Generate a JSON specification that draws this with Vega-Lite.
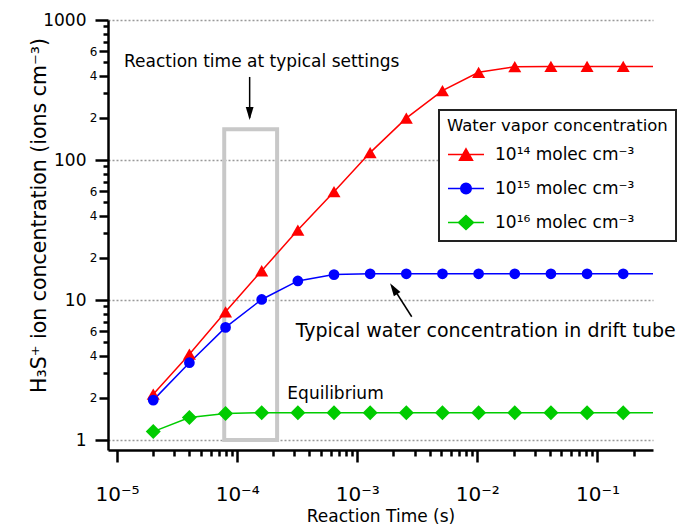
{
  "$schema": "https://vega.github.io/schema/vega-lite/v6.json",
  "width": 545,
  "height": 430,
  "autosize": {"type": "none"},
  "padding": {"left": 108, "top": 20, "right": 35, "bottom": 77},
  "config": {
    "font": "DejaVu Sans",
    "view": {"stroke": null},
    "axis": {
      "domainColor": "black", "domainWidth": 2.5, "tickColor": "black", "tickWidth": 2.5,
      "labelColor": "black", "titleColor": "black", "titleFontWeight": "normal",
      "grid": false, "labelFlush": false, "labelOverlap": false
    }
  },
  "datasets": {
    "series": [
      {"s": "10¹⁴ molec cm⁻³", "t": 0.00002, "c": 2.13},
      {"s": "10¹⁴ molec cm⁻³", "t": 0.00004, "c": 4.11},
      {"s": "10¹⁴ molec cm⁻³", "t": 0.00008, "c": 8.25},
      {"s": "10¹⁴ molec cm⁻³", "t": 0.00016, "c": 16.2},
      {"s": "10¹⁴ molec cm⁻³", "t": 0.00032, "c": 31.6},
      {"s": "10¹⁴ molec cm⁻³", "t": 0.00064, "c": 59.4},
      {"s": "10¹⁴ molec cm⁻³", "t": 0.00128, "c": 113},
      {"s": "10¹⁴ molec cm⁻³", "t": 0.00256, "c": 199},
      {"s": "10¹⁴ molec cm⁻³", "t": 0.00512, "c": 313},
      {"s": "10¹⁴ molec cm⁻³", "t": 0.01024, "c": 423},
      {"s": "10¹⁴ molec cm⁻³", "t": 0.02048, "c": 464},
      {"s": "10¹⁴ molec cm⁻³", "t": 0.04096, "c": 466},
      {"s": "10¹⁴ molec cm⁻³", "t": 0.08192, "c": 466},
      {"s": "10¹⁴ molec cm⁻³", "t": 0.16384, "c": 466},
      {"s": "10¹⁴ molec cm⁻³", "t": 0.29, "c": 466},
      {"s": "10¹⁵ molec cm⁻³", "t": 0.00002, "c": 1.93},
      {"s": "10¹⁵ molec cm⁻³", "t": 0.00004, "c": 3.57},
      {"s": "10¹⁵ molec cm⁻³", "t": 0.00008, "c": 6.38},
      {"s": "10¹⁵ molec cm⁻³", "t": 0.00016, "c": 10.1},
      {"s": "10¹⁵ molec cm⁻³", "t": 0.00032, "c": 13.7},
      {"s": "10¹⁵ molec cm⁻³", "t": 0.00064, "c": 15.2},
      {"s": "10¹⁵ molec cm⁻³", "t": 0.00128, "c": 15.4},
      {"s": "10¹⁵ molec cm⁻³", "t": 0.00256, "c": 15.4},
      {"s": "10¹⁵ molec cm⁻³", "t": 0.00512, "c": 15.4},
      {"s": "10¹⁵ molec cm⁻³", "t": 0.01024, "c": 15.4},
      {"s": "10¹⁵ molec cm⁻³", "t": 0.02048, "c": 15.4},
      {"s": "10¹⁵ molec cm⁻³", "t": 0.04096, "c": 15.4},
      {"s": "10¹⁵ molec cm⁻³", "t": 0.08192, "c": 15.4},
      {"s": "10¹⁵ molec cm⁻³", "t": 0.16384, "c": 15.4},
      {"s": "10¹⁵ molec cm⁻³", "t": 0.29, "c": 15.4},
      {"s": "10¹⁶ molec cm⁻³", "t": 0.00002, "c": 1.15},
      {"s": "10¹⁶ molec cm⁻³", "t": 0.00004, "c": 1.45},
      {"s": "10¹⁶ molec cm⁻³", "t": 0.00008, "c": 1.55},
      {"s": "10¹⁶ molec cm⁻³", "t": 0.00016, "c": 1.57},
      {"s": "10¹⁶ molec cm⁻³", "t": 0.00032, "c": 1.57},
      {"s": "10¹⁶ molec cm⁻³", "t": 0.00064, "c": 1.57},
      {"s": "10¹⁶ molec cm⁻³", "t": 0.00128, "c": 1.57},
      {"s": "10¹⁶ molec cm⁻³", "t": 0.00256, "c": 1.57},
      {"s": "10¹⁶ molec cm⁻³", "t": 0.00512, "c": 1.57},
      {"s": "10¹⁶ molec cm⁻³", "t": 0.01024, "c": 1.57},
      {"s": "10¹⁶ molec cm⁻³", "t": 0.02048, "c": 1.57},
      {"s": "10¹⁶ molec cm⁻³", "t": 0.04096, "c": 1.57},
      {"s": "10¹⁶ molec cm⁻³", "t": 0.08192, "c": 1.57},
      {"s": "10¹⁶ molec cm⁻³", "t": 0.16384, "c": 1.57},
      {"s": "10¹⁶ molec cm⁻³", "t": 0.29, "c": 1.57}
    ]
  },
  "resolve": {"axis": {"x": "independent", "y": "independent"}},
  "layer": [
    {
      "data": {"values": [{"t": 0.000078, "t2": 0.000215, "c": 1, "c2": 166}]},
      "mark": {"type": "rect", "fill": null, "stroke": "#c8c8c8", "strokeWidth": 4},
      "encoding": {
        "x": {"field": "t", "type": "quantitative", "scale": {"type": "log", "domain": [0.0000084, 0.29], "nice": false},
          "axis": {"orient": "bottom", "values": [0.00002,0.00003,0.00004,0.00005,0.00006,0.00007,0.00008,0.00009,0.0002,0.0003,0.0004,0.0005,0.0006,0.0007,0.0008,0.0009,0.002,0.003,0.004,0.005,0.006,0.007,0.008,0.009,0.02,0.03,0.04,0.05,0.06,0.07,0.08,0.09,0.2],
            "labels": false, "tickSize": 6, "domain": false, "title": null}},
        "x2": {"field": "t2"},
        "y": {"field": "c", "type": "quantitative", "scale": {"type": "log", "domain": [0.85, 1000], "nice": false},
          "axis": {"orient": "left", "values": [3,5,7,8,9,30,50,70,80,90,300,500,700,800,900],
            "labels": false, "tickSize": 5, "domain": false, "title": null}},
        "y2": {"field": "c2"}
      }
    },
    {
      "data": {"name": "series"},
      "mark": {"type": "line", "strokeWidth": 1.5},
      "encoding": {
        "x": {"field": "t", "type": "quantitative", "scale": {"type": "log", "domain": [0.0000084, 0.29], "nice": false},
          "axis": {"orient": "bottom", "values": [0.00001, 0.0001, 0.001, 0.01, 0.1],
            "labelExpr": "'10' + ['⁻⁵','⁻⁴','⁻³','⁻²','⁻¹'][round(log(datum.value)/LN10) + 5]",
            "tickSize": 12, "labelFontSize": 20, "labelBaseline": "alphabetic", "labelPadding": 38,
            "title": "Reaction Time (s)", "titleFontSize": 17, "titleY": 71, "titleBaseline": "alphabetic"}},
        "y": {"field": "c", "type": "quantitative", "scale": {"type": "log", "domain": [0.85, 1000], "nice": false},
          "axis": {"orient": "left", "values": [1, 10, 100, 1000], "format": "d",
            "tickSize": 13, "labelFontSize": 17, "labelPadding": 9,
            "grid": true, "gridColor": "#999999", "gridDash": [2, 2], "gridWidth": 1.5,
            "title": "H₃S⁺ ion concentration (ions cm⁻³)", "titleFontSize": 20.5, "titleX": -69, "titleY": 195, "titleBaseline": "middle", "titleAngle": -90}},
        "color": {"field": "s", "type": "nominal",
          "scale": {"domain": ["10¹⁴ molec cm⁻³", "10¹⁵ molec cm⁻³", "10¹⁶ molec cm⁻³"], "range": ["#ff0000", "#0000ff", "#00cc00"]},
          "legend": {
            "title": "Water vapor concentration", "orient": "none", "legendX": 331, "legendY": 90,
            "padding": 8, "strokeColor": "#222222", "fillColor": "white",
            "titleFontSize": 16.5, "titleFontWeight": "normal", "titleColor": "black", "titlePadding": 1, "titleLimit": 400,
            "labelFontSize": 17, "labelColor": "black", "labelOffset": 10, "labelLimit": 400,
            "symbolSize": 1296, "symbolStrokeWidth": 1.5, "rowPadding": 6,
            "encode": {
              "legend": {"update": {"strokeWidth": {"value": 2}}},
              "symbols": {"update": {
                "shape": {"signal": "datum.value === '10¹⁴ molec cm⁻³' ? 'M-1,0H1M0,-0.314L0.361,0.314L-0.361,0.314Z' : datum.value === '10¹⁵ molec cm⁻³' ? 'M-1,0H1M0.292,0A0.292,0.292 0 1,1 -0.292,0A0.292,0.292 0 1,1 0.292,0Z' : 'M-1,0H1M0,-0.39L0.417,0L0,0.39L-0.417,0Z'"},
                "fill": {"scale": "color", "field": "value"},
                "stroke": {"scale": "color", "field": "value"},
                "strokeWidth": {"value": 1.5},
                "opacity": {"value": 1}
              }}
            }
          }}
      }
    },
    {
      "data": {"name": "series"},
      "transform": [{"filter": "datum.t < 0.2 && datum.s === '10¹⁴ molec cm⁻³'"}],
      "mark": {"type": "point", "shape": "triangle-up", "size": 170, "filled": true, "opacity": 1, "color": "#ff0000"},
      "encoding": {
        "x": {"field": "t", "type": "quantitative", "scale": {"type": "log", "domain": [0.0000084, 0.29], "nice": false}, "axis": null},
        "y": {"field": "c", "type": "quantitative", "scale": {"type": "log", "domain": [0.85, 1000], "nice": false},
          "axis": {"orient": "left", "values": [2, 4, 6, 20, 40, 60, 200, 400, 600],
            "labelExpr": "'' + round(datum.value / pow(10, floor(log(datum.value)/LN10 + 0.000001)))",
            "tickSize": 9, "labelFontSize": 12, "labelPadding": 2, "domain": false, "title": null}}
      }
    },
    {
      "data": {"name": "series"},
      "transform": [{"filter": "datum.t < 0.2 && datum.s === '10¹⁵ molec cm⁻³'"}],
      "mark": {"type": "point", "shape": "circle", "size": 115, "filled": true, "opacity": 1, "color": "#0000ff"},
      "encoding": {
        "x": {"field": "t", "type": "quantitative", "scale": {"type": "log", "domain": [0.0000084, 0.29], "nice": false}, "axis": null},
        "y": {"field": "c", "type": "quantitative", "scale": {"type": "log", "domain": [0.85, 1000], "nice": false}, "axis": null}
      }
    },
    {
      "data": {"name": "series"},
      "transform": [{"filter": "datum.t < 0.2 && datum.s === '10¹⁶ molec cm⁻³'"}],
      "mark": {"type": "point", "shape": "diamond", "size": 225, "filled": true, "opacity": 1, "color": "#00cc00"},
      "encoding": {
        "x": {"field": "t", "type": "quantitative", "scale": {"type": "log", "domain": [0.0000084, 0.29], "nice": false}, "axis": null},
        "y": {"field": "c", "type": "quantitative", "scale": {"type": "log", "domain": [0.85, 1000], "nice": false}, "axis": null}
      }
    },
    {
      "data": {"values": [
        {"t": 0.00016, "c": 459, "label": "Reaction time at typical settings"},
        {"t": 0.000659, "c": 1.96, "label": "Equilibrium"}
      ]},
      "mark": {"type": "text", "fontSize": 17, "align": "center", "baseline": "alphabetic", "color": "black"},
      "encoding": {
        "x": {"field": "t", "type": "quantitative", "scale": {"type": "log", "domain": [0.0000084, 0.29], "nice": false}, "axis": null},
        "y": {"field": "c", "type": "quantitative", "scale": {"type": "log", "domain": [0.85, 1000], "nice": false}, "axis": null},
        "text": {"field": "label"}
      }
    },
    {
      "data": {"values": [
        {"t": 0.01172, "c": 5.47, "label": "Typical water concentration in drift tube"}
      ]},
      "mark": {"type": "text", "fontSize": 19, "align": "center", "baseline": "alphabetic", "color": "black"},
      "encoding": {
        "x": {"field": "t", "type": "quantitative", "scale": {"type": "log", "domain": [0.0000084, 0.29], "nice": false}, "axis": null},
        "y": {"field": "c", "type": "quantitative", "scale": {"type": "log", "domain": [0.85, 1000], "nice": false}, "axis": null},
        "text": {"field": "label"}
      }
    },
    {
      "data": {"values": [
        {"t": 0.000127, "c": 392, "t2": 0.000127, "c2": 200},
        {"t": 0.00284, "c": 7.6, "t2": 0.00195, "c2": 12.6}
      ]},
      "mark": {"type": "rule", "color": "black", "strokeWidth": 1.5},
      "encoding": {
        "x": {"field": "t", "type": "quantitative", "scale": {"type": "log", "domain": [0.0000084, 0.29], "nice": false}, "axis": null},
        "y": {"field": "c", "type": "quantitative", "scale": {"type": "log", "domain": [0.85, 1000], "nice": false}, "axis": null},
        "x2": {"field": "t2"},
        "y2": {"field": "c2"}
      }
    },
    {
      "data": {"values": [{"t": 0.000127, "c": 193}]},
      "mark": {"type": "point", "shape": "M0,0L-0.3,-1L0.3,-1Z", "size": 676, "filled": true, "color": "black", "opacity": 1, "angle": 0},
      "encoding": {
        "x": {"field": "t", "type": "quantitative", "scale": {"type": "log", "domain": [0.0000084, 0.29], "nice": false}, "axis": null},
        "y": {"field": "c", "type": "quantitative", "scale": {"type": "log", "domain": [0.85, 1000], "nice": false}, "axis": null}
      }
    },
    {
      "data": {"values": [{"t": 0.001875, "c": 13.2}]},
      "mark": {"type": "point", "shape": "M0,0L-0.3,-1L0.3,-1Z", "size": 676, "filled": true, "color": "black", "opacity": 1, "angle": 147},
      "encoding": {
        "x": {"field": "t", "type": "quantitative", "scale": {"type": "log", "domain": [0.0000084, 0.29], "nice": false}, "axis": null},
        "y": {"field": "c", "type": "quantitative", "scale": {"type": "log", "domain": [0.85, 1000], "nice": false}, "axis": null}
      }
    }
  ]
}
